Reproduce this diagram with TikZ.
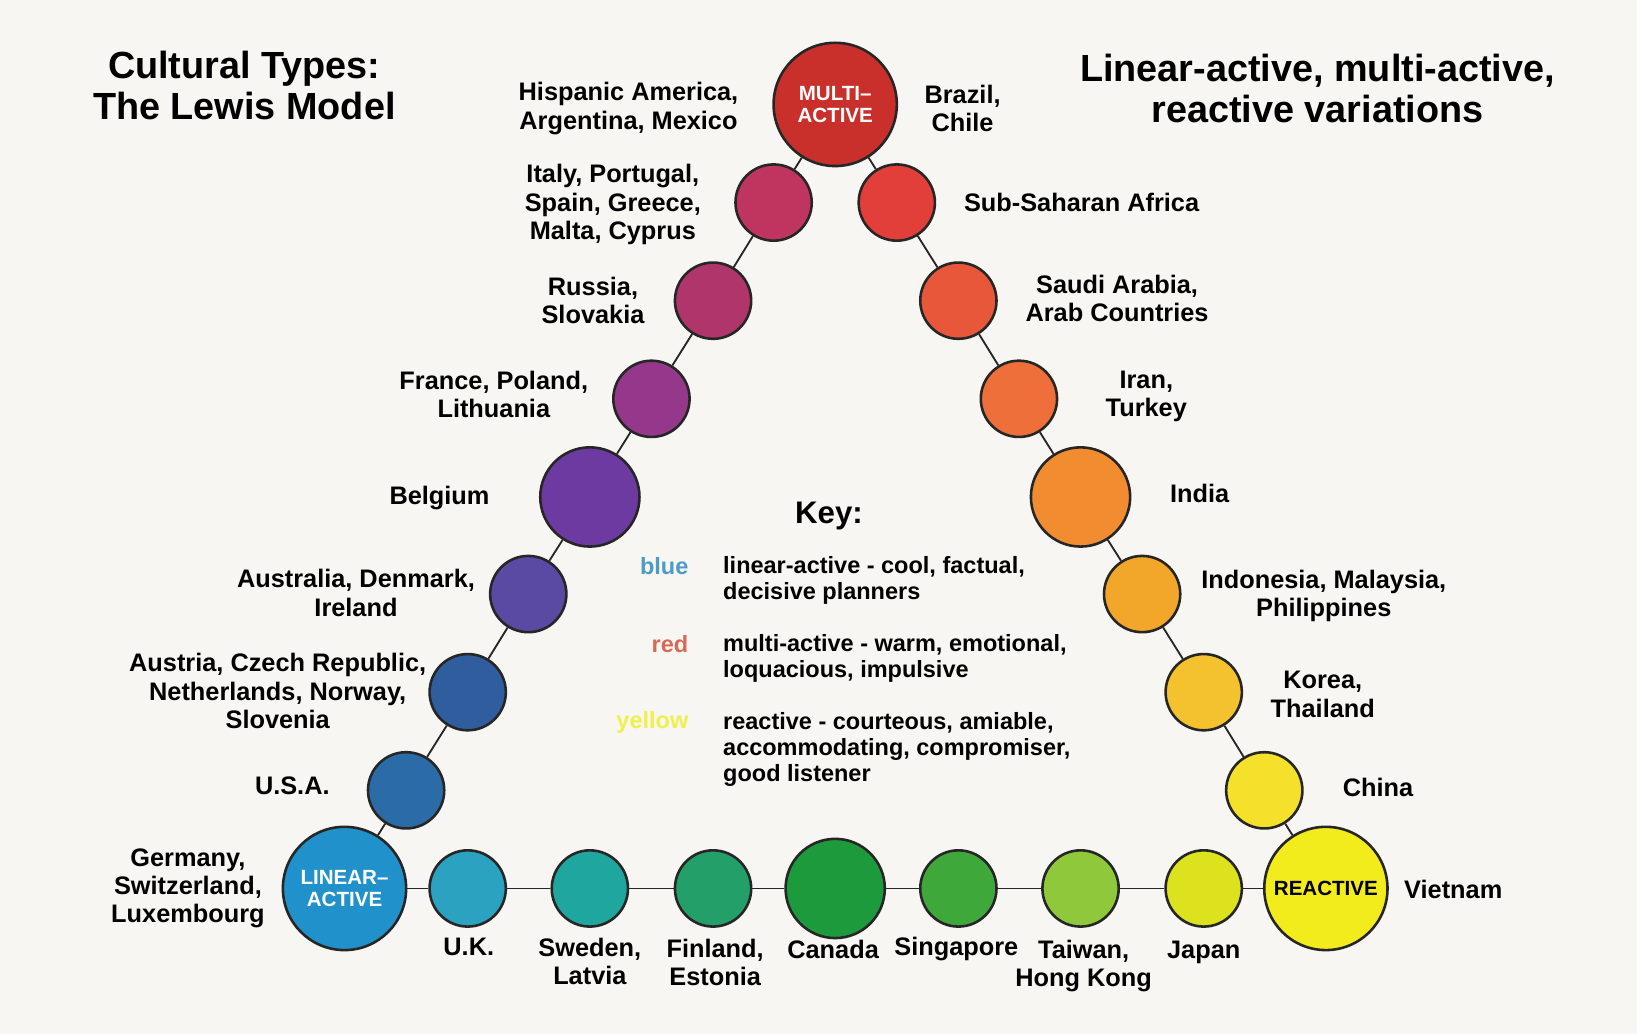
\documentclass[tikz,border=0pt]{standalone}
\usepackage{fontspec}
\setmainfont{Liberation Sans}
\usepackage{xcolor}

\definecolor{paper}{HTML}{F7F6F2}
\definecolor{cmul}{HTML}{C9302C}
\definecolor{cita}{HTML}{BF3560}
\definecolor{crus}{HTML}{B0356A}
\definecolor{cfra}{HTML}{95388C}
\definecolor{cbel}{HTML}{6C3AA0}
\definecolor{caus}{HTML}{5A4AA4}
\definecolor{caut}{HTML}{2F5D9E}
\definecolor{cusa}{HTML}{2B6CA8}
\definecolor{clin}{HTML}{2191CB}
\definecolor{cukd}{HTML}{2AA2C0}
\definecolor{cswe}{HTML}{1FA79F}
\definecolor{cfin}{HTML}{23A06A}
\definecolor{ccan}{HTML}{1D9A3C}
\definecolor{csgp}{HTML}{3FA83A}
\definecolor{ctwn}{HTML}{8FC83A}
\definecolor{cjpn}{HTML}{DDE21E}
\definecolor{crea}{HTML}{F2EC1C}
\definecolor{cchn}{HTML}{F5E02C}
\definecolor{ckor}{HTML}{F4C22E}
\definecolor{cido}{HTML}{F3A72A}
\definecolor{cind}{HTML}{F28C30}
\definecolor{cirn}{HTML}{EE6F3A}
\definecolor{csau}{HTML}{E9573A}
\definecolor{cssa}{HTML}{E23E3A}
\definecolor{keyblue}{HTML}{4D9CC6}
\definecolor{keyred}{HTML}{D66A55}
\definecolor{keyyellow}{HTML}{F0F04A}

\begin{document}
\begin{tikzpicture}[
    x=0.01cm, y=-0.01cm,
    ball/.style={circle, draw=black!85, fill=#1, line width=0.7pt, inner sep=0pt, minimum size=7.3mm},
    midball/.style={ball=#1, minimum size=9.5mm},
    bigball/.style={ball=#1, minimum size=11.8mm, font=\fontsize{5.6}{6.2}\selectfont\bfseries, align=center},
    lbl/.style={font=\fontsize{6.9}{7.7}\selectfont\bfseries, align=center, inner sep=0pt},
    keytxt/.style={font=\fontsize{6.4}{7.1}\selectfont\bfseries, align=left, inner sep=0pt},
    title/.style={font=\fontsize{10.3}{11.1}\selectfont\bfseries, align=center, inner sep=0pt},
    link/.style={line width=0.5pt, black!85}
]

    % Page
    \fill[paper] (0,0) rectangle (1568,990);
    \useasboundingbox (0,0) rectangle (1568,990);

    % Titles
    \node[title] (t-left) at (234,82) {Cultural Types:\\The Lewis Model};
    \node[title] (t-right) at (1262,85) {Linear-active, multi-active,\\reactive variations};

    % Corner circles
    \node[bigball=cmul, text=white] (mul) at (800,100) {MULTI--\\ACTIVE};
    \node[bigball=clin, text=white] (lin) at (330,851) {LINEAR--\\ACTIVE};
    \node[bigball=crea] (rea) at (1270,851) {REACTIVE};

    % Left side (linear-active to multi-active)
    \node[ball=cusa] (usa) at (389,757) {};
    \node[ball=caut] (aut) at (448,663) {};
    \node[ball=caus] (aus) at (506,569) {};
    \node[midball=cbel] (bel) at (565,476) {};
    \node[ball=cfra] (fra) at (624,382) {};
    \node[ball=crus] (rus) at (683,288) {};
    \node[ball=cita] (ita) at (741,194) {};

    % Right side (multi-active to reactive)
    \node[ball=cssa] (ssa) at (859,194) {};
    \node[ball=csau] (sau) at (918,288) {};
    \node[ball=cirn] (irn) at (976,382) {};
    \node[midball=cind] (ind) at (1035,476) {};
    \node[ball=cido] (ido) at (1094,569) {};
    \node[ball=ckor] (kor) at (1153,663) {};
    \node[ball=cchn] (chn) at (1211,757) {};

    % Bottom side (linear-active to reactive)
    \node[ball=cukd] (ukd) at (448,851) {};
    \node[ball=cswe] (swe) at (565,851) {};
    \node[ball=cfin] (fin) at (683,851) {};
    \node[midball=ccan] (can) at (800,851) {};
    \node[ball=csgp] (sgp) at (918,851) {};
    \node[ball=ctwn] (twn) at (1035,851) {};
    \node[ball=cjpn] (jpn) at (1153,851) {};

    % Links, left side
    \draw[link] (lin) -- (usa);
    \draw[link] (usa) -- (aut);
    \draw[link] (aut) -- (aus);
    \draw[link] (aus) -- (bel);
    \draw[link] (bel) -- (fra);
    \draw[link] (fra) -- (rus);
    \draw[link] (rus) -- (ita);
    \draw[link] (ita) -- (mul);

    % Links, right side
    \draw[link] (mul) -- (ssa);
    \draw[link] (ssa) -- (sau);
    \draw[link] (sau) -- (irn);
    \draw[link] (irn) -- (ind);
    \draw[link] (ind) -- (ido);
    \draw[link] (ido) -- (kor);
    \draw[link] (kor) -- (chn);
    \draw[link] (chn) -- (rea);

    % Links, bottom
    \draw[link] (lin) -- (ukd);
    \draw[link] (ukd) -- (swe);
    \draw[link] (swe) -- (fin);
    \draw[link] (fin) -- (can);
    \draw[link] (can) -- (sgp);
    \draw[link] (sgp) -- (twn);
    \draw[link] (twn) -- (jpn);
    \draw[link] (jpn) -- (rea);

    % Country labels, left
    \node[lbl] (l-his) at (602,104) {Hispanic America,\\Argentina, Mexico};
    \node[lbl] (l-ita) at (587,196) {Italy, Portugal,\\Spain, Greece,\\Malta, Cyprus};
    \node[lbl] (l-rus) at (568,288) {Russia,\\Slovakia};
    \node[lbl] (l-fra) at (473,378) {France, Poland,\\Lithuania};
    \node[lbl] (l-bel) at (421,477) {Belgium};
    \node[lbl] (l-aus) at (341,568) {Australia, Denmark,\\Ireland};
    \node[lbl] (l-aut) at (266,662) {Austria, Czech Republic,\\Netherlands, Norway,\\Slovenia};
    \node[lbl] (l-usa) at (280,753) {U.S.A.};
    \node[lbl] (l-ger) at (180,851) {Germany,\\Switzerland,\\Luxembourg};

    % Country labels, right
    \node[lbl] (l-bra) at (922,104) {Brazil,\\Chile};
    \node[lbl] (l-ssa) at (1036,194) {Sub-Saharan Africa};
    \node[lbl] (l-sau) at (1070,286) {Saudi Arabia,\\Arab Countries};
    \node[lbl] (l-irn) at (1098,380) {Iran,\\Turkey};
    \node[lbl] (l-ind) at (1149,473) {India};
    \node[lbl] (l-ido) at (1268,571) {Indonesia, Malaysia,\\Philippines};
    \node[lbl] (l-kor) at (1267,665) {Korea,\\Thailand};
    \node[lbl] (l-chn) at (1320,754) {China};
    \node[lbl] (l-vie) at (1392,852) {Vietnam};

    % Country labels, bottom
    \node[lbl] (l-ukd) at (449,907) {U.K.};
    \node[lbl] (l-swe) at (565,921) {Sweden,\\Latvia};
    \node[lbl] (l-fin) at (685,922) {Finland,\\Estonia};
    \node[lbl] (l-can) at (798,909) {Canada};
    \node[lbl] (l-sgp) at (916,909) {Singapore};
    \node[lbl] (l-twn) at (1038,925) {Taiwan,\\Hong Kong};
    \node[lbl] (l-jpn) at (1153,912) {Japan};

    % Key
    \node[keytxt, font=\fontsize{8.5}{9}\selectfont\bfseries] (key) at (794,494) {Key:};
    \node[keytxt, anchor=east, text=keyblue] (k-blue) at (660,542) {blue};
    \node[keytxt, anchor=east, text=keyred] (k-red) at (660,617) {red};
    \node[keytxt, anchor=east, text=keyyellow] (k-yellow) at (660,692) {yellow};
    \node[keytxt, anchor=west] (d-blue) at (692,556) {linear-active - cool, factual,\\decisive planners};
    \node[keytxt, anchor=west] (d-red) at (692,631) {multi-active - warm, emotional,\\loquacious, impulsive};
    \node[keytxt, anchor=west] (d-yellow) at (692,718) {reactive - courteous, amiable,\\accommodating, compromiser,\\good listener};

\end{tikzpicture}
\end{document}
